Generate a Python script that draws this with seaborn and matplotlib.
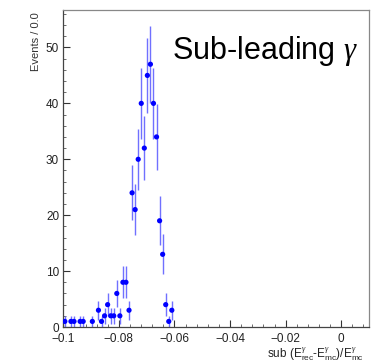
import numpy as np
import pandas as pd
import matplotlib
matplotlib.use("Agg")
import matplotlib.pyplot as plt
import seaborn as sns
from matplotlib.ticker import MultipleLocator, FixedLocator

# ---- data (bin width 0.0011 over [-0.1, 0.01]) ----
x_min = -0.1
bin_width = 0.0011
bin_index = [0, 2, 3, 5, 6, 9, 11, 12, 13, 14, 15, 16, 17, 18, 19, 20, 21,
             22, 23, 24, 25, 26, 27, 28, 29, 30, 31, 32, 33, 34, 35]
counts = [1, 1, 1, 1, 1, 1, 3, 1, 2, 4, 2, 2, 6, 2, 8, 8, 3,
          24, 21, 30, 40, 32, 45, 47, 40, 34, 19, 13, 4, 1, 3]
x_ticks = [-0.1, -0.08, -0.06, -0.04, -0.02, 0.0]
x_ticklabels = ["\u22120.1", "\u22120.08", "\u22120.06", "\u22120.04", "\u22120.02", "0"]
y_ticks = [0, 10, 20, 30, 40, 50]

sns.set_style("ticks")
plt.rcParams['font.family'] = ['Liberation Sans', 'DejaVu Sans']
plt.rcParams['mathtext.fontset'] = 'custom'
plt.rcParams['mathtext.rm'] = 'Liberation Sans'
plt.rcParams['mathtext.it'] = 'Liberation Serif:italic'

centers = x_min + bin_width * (np.array(bin_index) + 0.5)
df = pd.DataFrame({"x": centers, "n": counts})
df["err"] = np.sqrt(df["n"])

fig = plt.figure(figsize=(3.75, 3.61), dpi=100)
ax = fig.add_axes([63.3 / 375, 34 / 361, (369 - 63.3) / 375, (327 - 10) / 361])

ax.errorbar(df["x"], df["n"], yerr=df["err"], fmt="none",
            ecolor="#7070ff", elinewidth=1.0, capsize=0, zorder=2)
sns.scatterplot(data=df, x="x", y="n", ax=ax, color="#0000ff", s=14,
                edgecolor="none", linewidth=0, zorder=3)

ax.set_xlim(-0.1, 0.01)
ax.set_ylim(0, 56.7)
ax.xaxis.set_major_locator(FixedLocator(x_ticks))
ax.set_xticklabels(x_ticklabels)
ax.xaxis.set_minor_locator(MultipleLocator(0.004))
ax.yaxis.set_major_locator(FixedLocator(y_ticks))
ax.yaxis.set_minor_locator(MultipleLocator(2))
ax.tick_params(which="major", direction="in", length=5, width=0.8,
               colors="#333333", labelsize=8.5, labelcolor="#222222")
ax.tick_params(which="minor", direction="in", length=2.5, width=0.6,
               colors="#555555")
ax.tick_params(axis="y", pad=3)
ax.tick_params(axis="x", pad=4)
ax.set_xlabel("")
ax.set_ylabel("")

for side in ["left", "bottom"]:
    ax.spines[side].set_color("#444444")
    ax.spines[side].set_linewidth(0.9)
for side in ["top", "right"]:
    ax.spines[side].set_visible(True)
    ax.spines[side].set_color("#888888")
    ax.spines[side].set_linewidth(0.9)

fig.text(36 / 375, 1 - 12 / 361, "Events / 0.0", rotation=90, ha="center",
         va="top", fontsize=8, color="#333333")
fig.text(364 / 375, 3 / 361,
         r"sub (E$^{\gamma}_{\rm rec}$-E$^{\gamma}_{\rm mc}$)/E$^{\gamma}_{\rm mc}$",
         ha="right", va="baseline", fontsize=8.5, color="#222222")
ax.text(0.355, 0.845, r"Sub-leading $\gamma$", transform=ax.transAxes,
        fontsize=22, color="black", ha="left", va="baseline")

fig.savefig("out.png", dpi=100)
